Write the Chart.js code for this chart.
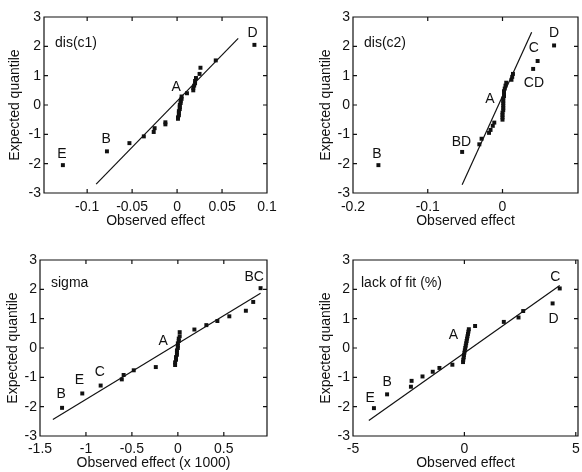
<!DOCTYPE html>
<html>
<head>
<meta charset="utf-8">
<script src="https://cdn.jsdelivr.net/npm/chart.js@4.4.0/dist/chart.umd.min.js"></script>
<style>
  body { margin: 0; background: #fff; }
  #wrap { position: relative; width: 582px; height: 472px; }
  .panel { position: absolute; width: 291px; height: 236px; }
</style>
</head>
<body>
<div id="wrap">
  <div class="panel" style="left:0;top:0"><canvas id="c1" width="291" height="236"></canvas></div>
  <div class="panel" style="left:291px;top:0"><canvas id="c2" width="291" height="236"></canvas></div>
  <div class="panel" style="left:0;top:236px"><canvas id="c3" width="291" height="236"></canvas></div>
  <div class="panel" style="left:291px;top:236px"><canvas id="c4" width="291" height="236"></canvas></div>
</div>
<script>
// quantile ticks shared by all four plots
const yTicks = [-3, -2, -1, 0, 1, 2, 3];

// dis(c1)
const effect1 = [-0.127, -0.078, -0.053, -0.037, -0.026, -0.025, -0.013, -0.013, 0.001, 0.001, 0.002, 0.002, 0.002, 0.003, 0.003, 0.003, 0.004, 0.004, 0.005, 0.005, 0.011, 0.018, 0.018, 0.019, 0.020, 0.020, 0.021, 0.025, 0.026, 0.043, 0.086];
const quant1 = [-2.05, -1.58, -1.30, -1.07, -0.92, -0.79, -0.66, -0.59, -0.47, -0.42, -0.35, -0.28, -0.21, -0.14, -0.07, 0.00, 0.07, 0.14, 0.21, 0.29, 0.40, 0.50, 0.58, 0.66, 0.74, 0.82, 0.92, 1.06, 1.27, 1.52, 2.05];
const fitX1 = [-0.09, 0.068];
const fitY1 = [-2.70, 2.27];
const xTicks1 = [-0.1, -0.05, 0, 0.05, 0.1];
const labText1 = ['E', 'B', 'A', 'D'];
const labX1 = [-0.128, -0.079, -0.001, 0.084];
const labY1 = [-1.67, -1.17, 0.60, 2.45];

// dis(c2)
const effect2 = [-0.166, -0.054, -0.031, -0.028, -0.018, -0.016, -0.013, -0.011, 0.000, 0.000, 0.000, 0.000, 0.001, 0.001, 0.001, 0.001, 0.001, 0.001, 0.002, 0.002, 0.002, 0.003, 0.004, 0.005, 0.012, 0.013, 0.014, 0.041, 0.047, 0.069];
const quant2 = [-2.05, -1.60, -1.34, -1.15, -0.95, -0.85, -0.71, -0.60, -0.50, -0.42, -0.34, -0.26, -0.18, -0.10, -0.02, 0.06, 0.14, 0.22, 0.30, 0.38, 0.47, 0.56, 0.66, 0.76, 0.86, 0.96, 1.06, 1.23, 1.50, 2.03];
const fitX2 = [-0.054, 0.039];
const fitY2 = [-2.72, 2.48];
const xTicks2 = [-0.2, -0.1, 0];
const labText2 = ['B', 'BD', 'A', 'C', 'CD', 'D'];
const labX2 = [-0.168, -0.055, -0.017, 0.042, 0.042, 0.069];
const labY2 = [-1.67, -1.25, 0.20, 1.93, 0.74, 2.45];

// sigma
const effect3 = [-1.26, -1.04, -0.84, -0.61, -0.59, -0.48, -0.24, -0.03, -0.03, -0.02, -0.02, -0.01, -0.01, -0.01, 0.00, 0.00, 0.00, 0.01, 0.01, 0.02, 0.02, 0.18, 0.31, 0.43, 0.56, 0.74, 0.82, 0.90];
const quant3 = [-2.04, -1.55, -1.28, -1.07, -0.92, -0.76, -0.65, -0.58, -0.49, -0.40, -0.31, -0.23, -0.15, -0.08, 0.00, 0.08, 0.16, 0.24, 0.32, 0.40, 0.54, 0.63, 0.78, 0.92, 1.08, 1.27, 1.57, 2.04];
const fitX3 = [-1.36, 0.90];
const fitY3 = [-2.44, 1.87];
const xTicks3 = [-1.5, -1, -0.5, 0, 0.5];
const labText3 = ['B', 'E', 'C', 'A', 'BC'];
const labX3 = [-1.27, -1.07, -0.85, -0.16, 0.83];
const labY3 = [-1.59, -1.10, -0.82, 0.22, 2.40];

// lack of fit (%)
const effect4 = [-4.06, -3.47, -2.40, -2.37, -1.88, -1.42, -1.12, -0.54, -0.06, -0.05, -0.03, -0.02, 0.00, 0.02, 0.04, 0.06, 0.08, 0.10, 0.12, 0.14, 0.16, 0.18, 0.20, 0.48, 1.77, 2.43, 2.64, 3.96, 4.28];
const quant4 = [-2.05, -1.58, -1.32, -1.12, -0.97, -0.81, -0.68, -0.57, -0.48, -0.40, -0.32, -0.24, -0.16, -0.08, 0.00, 0.08, 0.16, 0.24, 0.32, 0.40, 0.48, 0.56, 0.64, 0.75, 0.89, 1.04, 1.26, 1.52, 2.03];
const fitX4 = [-4.29, 4.28];
const fitY4 = [-2.47, 2.13];
const xTicks4 = [-5, 0, 5];
const labText4 = ['E', 'B', 'A', 'C', 'D'];
const labX4 = [-4.23, -3.47, -0.49, 4.08, 4.00];
const labY4 = [-1.72, -1.16, 0.45, 2.43, 0.99];

const FONT = { family: '"Liberation Sans", Arial, Helvetica, sans-serif', size: 14 };
const INK = '#111';

// frame with inward ticks on all four sides, plus the letter annotations
const boxPlugin = {
  id: 'frame',
  afterDraw(chart) {
    const opts = chart.config._config.frameOpts;
    const { ctx, chartArea: a, scales: { x, y } } = chart;
    ctx.save();
    ctx.strokeStyle = INK;
    ctx.lineWidth = 1.2;
    ctx.beginPath();
    ctx.rect(a.left, a.top, a.right - a.left, a.bottom - a.top);
    x.ticks.forEach(t => {
      const px = x.getPixelForValue(t.value);
      ctx.moveTo(px, a.bottom); ctx.lineTo(px, a.bottom - 4);
      ctx.moveTo(px, a.top); ctx.lineTo(px, a.top + 4);
    });
    y.ticks.forEach(t => {
      const py = y.getPixelForValue(t.value);
      ctx.moveTo(a.left, py); ctx.lineTo(a.left + 4, py);
      ctx.moveTo(a.right, py); ctx.lineTo(a.right - 4, py);
    });
    ctx.stroke();
    ctx.fillStyle = INK;
    ctx.font = FONT.size + 'px ' + FONT.family;
    ctx.textAlign = 'center';
    ctx.textBaseline = 'middle';
    opts.text.forEach((s, i) => {
      ctx.fillText(s, x.getPixelForValue(opts.tx[i]), y.getPixelForValue(opts.ty[i]));
    });
    ctx.textAlign = 'left';
    ctx.fillText(opts.title, a.left + opts.dx, a.top + opts.dy);
    ctx.restore();
  }
};

function makePanel(id, p) {
  new Chart(document.getElementById(id), {
    type: 'scatter',
    frameOpts: { text: p.lt, tx: p.lx, ty: p.ly, title: p.title, dx: p.dx, dy: p.dy },
    data: {
      datasets: [
        {
          data: p.fx.map((v, i) => ({ x: v, y: p.fy[i] })),
          showLine: true,
          borderColor: INK,
          borderWidth: 1.2,
          pointRadius: 0
        },
        {
          data: p.x.map((v, i) => ({ x: v, y: p.y[i] })),
          pointStyle: 'rect',
          pointRadius: 2.8,
          backgroundColor: INK,
          borderColor: INK,
          borderWidth: 0
        }
      ]
    },
    options: {
      responsive: false,
      animation: false,
      events: [],
      layout: { padding: { top: p.padTop, right: p.padRight, left: 0, bottom: 0 } },
      plugins: {
        legend: { display: false },
        tooltip: { enabled: false }
      },
      scales: {
        x: {
          type: 'linear',
          min: p.xmin, max: p.xmax,
          grid: { display: false, drawTicks: false },
          border: { display: false },
          ticks: { font: FONT, color: INK, padding: p.xTickPad, maxRotation: 0, autoSkip: false,
                   callback: v => String(v) },
          afterBuildTicks: s => { s.ticks = p.xTicks.map(v => ({ value: v })); },
          afterFit: s => { s.height = p.xH; s.paddingLeft = 0; s.paddingRight = 0; },
          title: { display: true, text: p.xTitle, font: FONT, color: INK,
                   padding: { top: 0, bottom: p.xTitlePad } }
        },
        y: {
          type: 'linear',
          min: -3, max: 3,
          grid: { display: false, drawTicks: false },
          border: { display: false },
          ticks: { font: FONT, color: INK, padding: 3, autoSkip: false, callback: v => String(v) },
          afterBuildTicks: s => { s.ticks = yTicks.map(v => ({ value: v })); },
          afterFit: s => { s.width = p.yW; s.paddingTop = 0; s.paddingBottom = 0; },
          title: { display: true, text: 'Expected quantile', font: FONT, color: INK,
                   padding: { top: p.yTitlePad, bottom: 0 } }
        }
      }
    },
    plugins: [boxPlugin]
  });
}

makePanel('c1', {
  x: effect1, y: quant1, fx: fitX1, fy: fitY1, xTicks: xTicks1,
  lt: labText1, lx: labX1, ly: labY1, title: 'dis(c1)', dx: 11, dy: 26,
  xmin: -0.148, xmax: 0.1, xTitle: 'Observed effect',
  padTop: 17, padRight: 24, yW: 44, xH: 43, xTickPad: 6, xTitlePad: 6, yTitlePad: 7
});
makePanel('c2', {
  x: effect2, y: quant2, fx: fitX2, fy: fitY2, xTicks: xTicks2,
  lt: labText2, lx: labX2, ly: labY2, title: 'dis(c2)', dx: 11, dy: 26,
  xmin: -0.2, xmax: 0.101, xTitle: 'Observed effect',
  padTop: 17, padRight: 3, yW: 62, xH: 43, xTickPad: 6, xTitlePad: 6, yTitlePad: 27
});
makePanel('c3', {
  x: effect3, y: quant3, fx: fitX3, fy: fitY3, xTicks: xTicks3,
  lt: labText3, lx: labX3, ly: labY3, title: 'sigma', dx: 11, dy: 23,
  xmin: -1.5, xmax: 0.97, xTitle: 'Observed effect (x 1000)',
  padTop: 24, padRight: 24, yW: 40, xH: 36, xTickPad: 5, xTitlePad: 0, yTitlePad: 5
});
makePanel('c4', {
  x: effect4, y: quant4, fx: fitX4, fy: fitY4, xTicks: xTicks4,
  lt: labText4, lx: labX4, ly: labY4, title: 'lack of fit (%)', dx: 8, dy: 23,
  xmin: -5, xmax: 5.1, xTitle: 'Observed effect',
  padTop: 24, padRight: 4, yW: 62, xH: 36, xTickPad: 5, xTitlePad: 0, yTitlePad: 27
});
</script>
</body>
</html>
